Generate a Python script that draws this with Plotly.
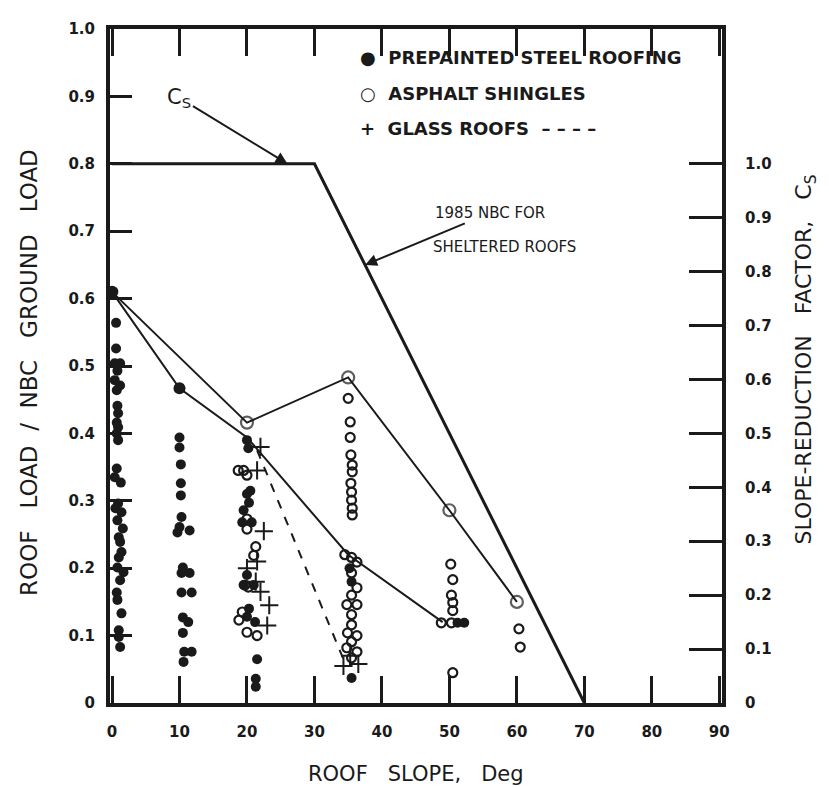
import plotly.graph_objects as go

# ---------------- data ----------------
# Prepainted steel roofing (filled circles)
steel_x = [0.2, 0.6, 0.6, 0.4, 1.2, 0.8, 0.4, 1.2, 0.7, 0.8, 0.9, 0.7, 0.9, 0.7, 0.9,
           0.7, 0.4, 1.3, 0.9, 0.5, 1.4, 0.8, 1.6, 1.0, 1.2, 1.4, 1.0, 0.8, 1.7, 1.2,
           0.7, 0.8, 1.4, 1.0, 1.0, 1.2,
           10, 10, 10, 10.2, 10.2, 10.2, 10.3, 10.0, 11.5, 9.7, 10.5, 10.3, 11.5, 10.3,
           11.8, 10.5, 11.3, 10.5, 10.7, 11.8, 10.6,
           20, 20.2, 20.5, 20, 20.3, 19.5, 19.3, 20.7, 20, 19.5, 21, 20.3, 20, 21.2,
           21.5, 21.3, 21.3,
           35.2, 35.5, 35.5,
           51.2, 52.2]
steel_y = [0.61, 0.564, 0.526, 0.504, 0.504, 0.493, 0.479, 0.471, 0.464, 0.441, 0.430, 0.416,
           0.409, 0.400, 0.390, 0.348, 0.335, 0.327, 0.296, 0.289, 0.283, 0.271, 0.259, 0.246,
           0.239, 0.224, 0.216, 0.201, 0.194, 0.182, 0.164, 0.153, 0.133, 0.108, 0.098, 0.083,
           0.467, 0.394, 0.379, 0.354, 0.326, 0.308, 0.276, 0.261, 0.256, 0.253, 0.201, 0.193,
           0.193, 0.164, 0.164, 0.127, 0.120, 0.104, 0.076, 0.076, 0.061,
           0.390, 0.378, 0.315, 0.310, 0.297, 0.286, 0.268, 0.268, 0.190, 0.175, 0.175, 0.140,
           0.128, 0.120, 0.065, 0.036, 0.024,
           0.200, 0.180, 0.037,
           0.119, 0.119]

# Asphalt shingles (open circles)
asph_x = [18.7, 19.5, 20.0, 20.0, 20.0, 21.0, 21.3, 19.7, 20.2, 19.3, 18.8, 20.0, 21.5,
          35.0, 35.3, 35.3, 35.4, 35.6, 35.6, 35.4, 35.5, 35.5, 35.6, 35.6, 34.5, 35.5, 36.3,
          35.5, 36.3, 35.5, 34.8, 36.3, 35.5, 35.5, 34.9, 36.3, 35.5, 34.8, 36.3, 35.5,
          50.2, 50.5, 50.3, 50.5, 50.5, 48.8, 50.3, 50.5,
          60.3, 60.5]
asph_y = [0.345, 0.345, 0.338, 0.273, 0.258, 0.219, 0.232, 0.175, 0.172, 0.135, 0.123, 0.105, 0.100,
          0.452, 0.417, 0.394, 0.368, 0.353, 0.343, 0.326, 0.313, 0.301, 0.289, 0.279, 0.220, 0.216,
          0.209, 0.193, 0.171, 0.160, 0.146, 0.146, 0.131, 0.116, 0.104, 0.100, 0.091, 0.082, 0.076,
          0.067,
          0.206, 0.183, 0.160, 0.149, 0.137, 0.119, 0.119, 0.045,
          0.110, 0.083]

# Glass roofs (+)
glass_x = [22.0, 21.5, 22.5, 20.0, 21.5, 21.3, 22.0, 23.3, 23.0, 34.3, 36.5, 35.3]
glass_y = [0.380, 0.345, 0.255, 0.200, 0.210, 0.180, 0.165, 0.145, 0.115, 0.055, 0.058, 0.070]

# Mean lines
steel_mean_x = [0, 10, 20, 35, 49]
steel_mean_y = [0.61, 0.467, 0.394, 0.220, 0.120]
asph_mean_x = [0, 20, 35, 50, 60]
asph_mean_y = [0.61, 0.416, 0.483, 0.286, 0.150]
glass_mean_x = [21.5, 34.5]
glass_mean_y = [0.375, 0.060]

# 1985 NBC slope-reduction factor for sheltered roofs
nbc_x = [0, 30, 70]
nbc_cs = [1.0, 1.0, 0.0]

x_ticks = [0, 10, 20, 30, 40, 50, 60, 70, 80, 90]
y_ticks = [0, 0.1, 0.2, 0.3, 0.4, 0.5, 0.6, 0.7, 0.8, 0.9, 1.0]
y_ticktext = ["0", "0.1", "0.2", "0.3", "0.4", "0.5", "0.6", "0.7", "0.8", "0.9", "1.0"]
cs_ticks = [0, 0.1, 0.2, 0.3, 0.4, 0.5, 0.6, 0.7, 0.8, 0.9, 1.0]
cs_ticktext = ["0", "0.1", "0.2", "0.3", "0.4", "0.5", "0.6", "0.7", "0.8", "0.9", "1.0"]

INK = "#1a1a1a"
FONT = "DejaVu Sans"

fig = go.Figure()

fig.add_trace(go.Scatter(x=nbc_x, y=nbc_cs, mode="lines", yaxis="y2",
                         line=dict(color=INK, width=3), cliponaxis=False, showlegend=False))
fig.add_trace(go.Scatter(x=steel_mean_x, y=steel_mean_y, mode="lines",
                         line=dict(color=INK, width=2), showlegend=False))
fig.add_trace(go.Scatter(x=asph_mean_x, y=asph_mean_y, mode="lines+markers",
                         line=dict(color=INK, width=2),
                         marker=dict(symbol="circle-open", size=[0, 12, 12, 12, 12], color=INK,
                                     line=dict(width=2.2, color=INK)),
                         cliponaxis=False, showlegend=False))
fig.add_trace(go.Scatter(x=glass_mean_x, y=glass_mean_y, mode="lines",
                         line=dict(color=INK, width=2, dash="dash"), showlegend=False))

fig.add_trace(go.Scatter(x=steel_x, y=steel_y, mode="markers", cliponaxis=False,
                         marker=dict(symbol="circle", size=10, color=INK), showlegend=False))
fig.add_trace(go.Scatter(x=asph_x, y=asph_y, mode="markers", cliponaxis=False,
                         marker=dict(symbol="circle-open", size=9, color=INK,
                                     line=dict(width=2.2, color=INK)),
                         showlegend=False))
fig.add_trace(go.Scatter(x=glass_x, y=glass_y, mode="markers", cliponaxis=False,
                         marker=dict(symbol="cross-thin-open", size=13, color=INK,
                                     line=dict(width=2, color=INK)),
                         showlegend=False))

# larger markers at the first mean points
fig.add_trace(go.Scatter(x=steel_mean_x[:2], y=steel_mean_y[:2], mode="markers", cliponaxis=False,
                         marker=dict(symbol="circle", size=12, color=INK), showlegend=False))

TICKFONT = dict(family=FONT, size=15, color=INK, weight="bold")

fig.update_layout(
    width=821, height=779,
    margin=dict(l=102, r=107, t=16, b=84),
    paper_bgcolor="white", plot_bgcolor="white",
    font=dict(family=FONT, size=15, color=INK),
    xaxis=dict(range=[-0.3, 90.4], tickvals=x_ticks, ticks="inside", ticklen=27, tickwidth=2.5,
               tickcolor=INK, showline=True, linewidth=4, linecolor=INK, mirror="ticks",
               showgrid=False, zeroline=False, ticklabelstandoff=12, tickfont=TICKFONT),
    yaxis=dict(range=[0, 1.0], tickvals=y_ticks, ticktext=y_ticktext, ticks="inside", ticklen=22,
               tickwidth=2.5, tickcolor=INK, showline=True, linewidth=4, linecolor=INK,
               showgrid=False, zeroline=False, ticklabelstandoff=8, tickfont=TICKFONT),
    yaxis2=dict(range=[0, 1.25], overlaying="y", side="right", tickvals=cs_ticks,
                ticktext=cs_ticktext, ticks="inside", ticklen=33, tickwidth=2.5, tickcolor=INK,
                showline=True, linewidth=4, linecolor=INK, showgrid=False, zeroline=False,
                ticklabelstandoff=16, tickfont=TICKFONT),
    showlegend=False,
)

LEGFONT = dict(family=FONT, size=18, color=INK, weight="bold")
ann = []
# legend block
ann.append(dict(x=36.5, y=0.957, xref="x", yref="y", xanchor="left", yanchor="middle",
                text="●  PREPAINTED STEEL ROOFING", showarrow=False, font=LEGFONT))
ann.append(dict(x=36.5, y=0.905, xref="x", yref="y", xanchor="left", yanchor="middle",
                text="○  ASPHALT SHINGLES", showarrow=False, font=LEGFONT))
ann.append(dict(x=36.5, y=0.853, xref="x", yref="y", xanchor="left", yanchor="middle",
                text="+  GLASS ROOFS  – – – –", showarrow=False, font=LEGFONT))
# C_S label with arrow to the horizontal part of the NBC line
ann.append(dict(x=26, y=1.0, xref="x", yref="y2", text="C<sub>S</sub>",
                showarrow=True, arrowhead=2, arrowsize=1.2, arrowwidth=2, arrowcolor=INK,
                ax=-108, ay=-66, font=dict(family=FONT, size=21, color=INK)))
# NBC label with arrow to the sloped part
ann.append(dict(x=37.5, y=0.8125, xref="x", yref="y2", text="1985 NBC FOR",
                showarrow=True, arrowhead=2, arrowsize=1.2, arrowwidth=2, arrowcolor=INK,
                ax=125, ay=-52, font=dict(family=FONT, size=15, color=INK)))
ann.append(dict(x=47.3, y=0.676, xref="x", yref="y", xanchor="left", yanchor="middle",
                text="SHELTERED ROOFS", showarrow=False,
                font=dict(family=FONT, size=15, color=INK)))
# axis titles
ann.append(dict(x=0.5, y=-0.105, xref="paper", yref="paper", xanchor="center", yanchor="middle",
                text="ROOF   SLOPE,   Deg",
                showarrow=False, font=dict(family=FONT, size=21, color=INK)))
ann.append(dict(x=-0.132, y=0.49, xref="paper", yref="paper", xanchor="center", yanchor="middle",
                text="ROOF   LOAD  /  NBC   GROUND   LOAD",
                textangle=-90, showarrow=False, font=dict(family=FONT, size=23, color=INK)))
ann.append(dict(x=1.136, y=0.51, xref="paper", yref="paper", xanchor="center", yanchor="middle",
                text="SLOPE-REDUCTION   FACTOR,   C<sub>S</sub>",
                textangle=-90, showarrow=False, font=dict(family=FONT, size=22, color=INK)))
fig.update_layout(annotations=ann)

fig.write_html("out.html")
